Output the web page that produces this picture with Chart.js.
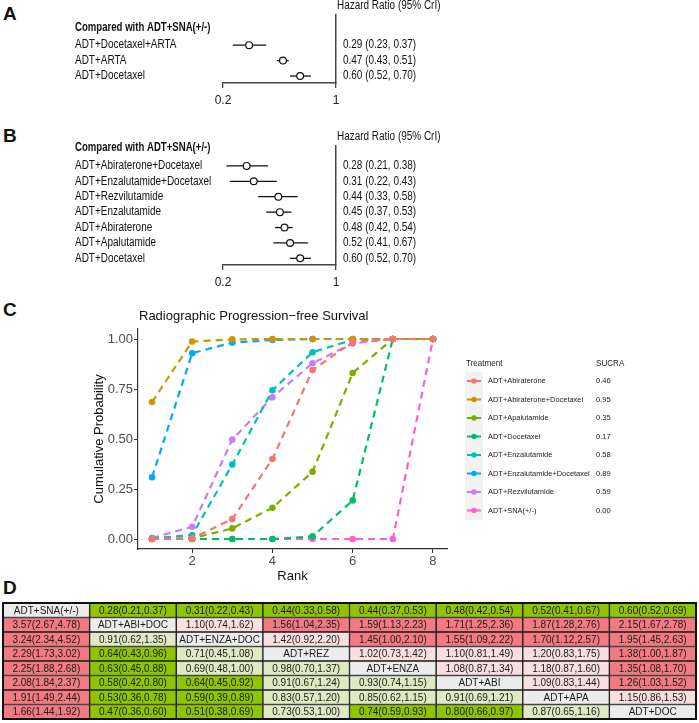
<!DOCTYPE html>
<html>
<head>
<meta charset="utf-8">
<script src="https://cdn.jsdelivr.net/npm/chart.js@4.4.1/dist/chart.umd.min.js"></script>
<style>
    body { margin: 0; background: #fff; width: 699px; height: 723px; position: relative; overflow: hidden; font-family: 'Liberation Sans', Arial, sans-serif; }
    canvas { position: absolute; left: 0; }
    .tag { position: absolute; left: 3px; font-weight: bold; font-size: 19px; line-height: 1; color: #111; }
</style>
</head>
<body>
<div class="tag" style="top:4px">A</div>
<div class="tag" style="top:126px">B</div>
<div class="tag" style="top:300px">C</div>
<div class="tag" style="top:578px">D</div>
<canvas id="forestA" width="699" height="110" style="top:0"></canvas>
<canvas id="forestB" width="699" height="185" style="top:108px"></canvas>
<canvas id="rankChart" width="699" height="290" style="top:300px"></canvas>
<canvas id="league" width="699" height="133" style="top:590px"></canvas>
<script>
// Panel A - classes vs ADT+SNA(+/-)
const aLabels = ['ADT+Docetaxel+ARTA', 'ADT+ARTA', 'ADT+Docetaxel'];
const aHR = [0.29, 0.47, 0.60];
const aLow = [0.23, 0.43, 0.52];
const aHigh = [0.37, 0.51, 0.70];

// Panel B - single treatments vs ADT+SNA(+/-)
const bLabels = ['ADT+Abiraterone+Docetaxel', 'ADT+Enzalutamide+Docetaxel', 'ADT+Rezvilutamide',
    'ADT+Enzalutamide', 'ADT+Abiraterone', 'ADT+Apalutamide', 'ADT+Docetaxel'];
const bHR = [0.28, 0.31, 0.44, 0.45, 0.48, 0.52, 0.60];
const bLow = [0.21, 0.22, 0.33, 0.37, 0.42, 0.41, 0.52];
const bHigh = [0.38, 0.43, 0.58, 0.53, 0.54, 0.67, 0.70];
const hrTicks = [0.2, 1];

// Panel C - cumulative rank probabilities
const ranks = [1, 2, 3, 4, 5, 6, 7, 8];
const treatments = ['ADT+Abiraterone', 'ADT+Abiraterone+Docetaxel', 'ADT+Apalutamide', 'ADT+Docetaxel',
    'ADT+Enzalutamide', 'ADT+Enzalutamide+Docetaxel', 'ADT+Rezvilutamide', 'ADT+SNA(+/-)'];
const sucra = [0.46, 0.95, 0.35, 0.17, 0.58, 0.89, 0.59, 0.00];
const cumAbi = [0, 0.003, 0.10, 0.40, 0.845, 0.985, 1, 1];
const cumAbiDoc = [0.685, 0.987, 0.998, 1, 1, 1, 1, 1];
const cumApa = [0, 0.003, 0.053, 0.156, 0.336, 0.83, 1, 1];
const cumDoc = [0, 0, 0, 0, 0.013, 0.193, 1, 1];
const cumEnza = [0.003, 0.02, 0.372, 0.744, 0.934, 0.996, 1, 1];
const cumEnzaDoc = [0.309, 0.929, 0.982, 0.995, 1, 1, 1, 1];
const cumRez = [0.005, 0.061, 0.497, 0.709, 0.879, 0.978, 1, 1];
const cumSNA = [0, 0, 0, 0, 0, 0, 0, 1];
const xTicksC = [2, 4, 6, 8];
const yTicksC = [0, 0.25, 0.5, 0.75, 1];

// Panel D - league table (row = column comparisons)
const leagueRows = [
    ['ADT+SNA(+/-)', '0.28(0.21,0.37)', '0.31(0.22,0.43)', '0.44(0.33,0.58)', '0.44(0.37,0.53)', '0.48(0.42,0.54)', '0.52(0.41,0.67)', '0.60(0.52,0.69)'],
    ['3.57(2.67,4.78)', 'ADT+ABI+DOC', '1.10(0.74,1.62)', '1.56(1.04,2.35)', '1.59(1.13,2.23)', '1.71(1.25,2.36)', '1.87(1.28,2.76)', '2.15(1.67,2.78)'],
    ['3.24(2.34,4.52)', '0.91(0.62,1.35)', 'ADT+ENZA+DOC', '1.42(0.92,2.20)', '1.45(1.00,2.10)', '1.55(1.09,2.22)', '1.70(1.12,2.57)', '1.95(1.45,2.63)'],
    ['2.29(1.73,3.02)', '0.64(0.43,0.96)', '0.71(0.45,1.08)', 'ADT+REZ', '1.02(0.73,1.42)', '1.10(0.81,1.49)', '1.20(0.83,1.75)', '1.38(1.00,1.87)'],
    ['2.25(1.88,2.68)', '0.63(0.45,0.88)', '0.69(0.48,1.00)', '0.98(0.70,1.37)', 'ADT+ENZA', '1.08(0.87,1.34)', '1.18(0.87,1.60)', '1.35(1.08,1.70)'],
    ['2.08(1.84,2.37)', '0.58(0.42,0.80)', '0.64(0.45,0.92)', '0.91(0.67,1.24)', '0.93(0.74,1.15)', 'ADT+ABI', '1.09(0.83,1.44)', '1.26(1.03,1.52)'],
    ['1.91(1.49,2.44)', '0.53(0.36,0.78)', '0.59(0.39,0.89)', '0.83(0.57,1.20)', '0.85(0.62,1.15)', '0.91(0.69,1.21)', 'ADT+APA', '1.15(0.86,1.53)'],
    ['1.66(1.44,1.92)', '0.47(0.36,0.60)', '0.51(0.38,0.69)', '0.73(0.53,1.00)', '0.74(0.59,0.93)', '0.80(0.66,0.97)', '0.87(0.65,1.16)', 'ADT+DOC'],
];
// N = treatment name, G/g = strong/weak benefit, R/r = strong/weak harm
const leagueShade = ['NGGGGGGG', 'RNrRRRRR', 'RgNrRRRR', 'RGgNrrrR', 'RGggNrrR', 'RGGggNrR', 'RGGgggNr', 'RGGgGGgN'];

const sans = "'Liberation Sans', Arial, sans-serif";

// no narrow face installed, so squeeze horizontally
function fillNarrow(ctx, text, x, y, k) {
    ctx.save();
    ctx.translate(x, y);
    ctx.scale(k, 1);
    ctx.fillText(text, 0, 0);
    ctx.restore();
}

// Forest plot (log HR scale)
function forestChart(id, labels, hr, lo, hi, yMin, yMax, top, bottom, canvasH) {
    const rows = labels.map((_, i) => i + 1);
    const whiskers = rows.map((r, i) => ({
        type: 'line',
        data: [{ x: lo[i], y: r }, { x: hi[i], y: r }],
        borderColor: '#111',
        borderWidth: 1.3,
        pointRadius: 0
    }));
    const textPlugin = {
        id: 'forestText',
        afterDraw(chart) {
            const { ctx, chartArea, scales: { y } } = chart;
            ctx.save();
            ctx.fillStyle = '#111';
            ctx.textBaseline = 'middle';
            ctx.textAlign = 'left';
            ctx.font = `bold 12px ${sans}`;
            fillNarrow(ctx, 'Compared with ADT+SNA(+/-)', 75, y.getPixelForValue(-0.15), 0.8);
            ctx.font = `12px ${sans}`;
            labels.forEach((lab, i) => {
                const py = y.getPixelForValue(i + 1);
                fillNarrow(ctx, lab, 75, py, 0.83);
                fillNarrow(ctx, `${hr[i].toFixed(2)} (${lo[i].toFixed(2)}, ${hi[i].toFixed(2)})`, chartArea.right + 7, py, 0.83);
            });
            fillNarrow(ctx, 'Hazard Ratio (95% CrI)', chartArea.right + 1, chartArea.top - 9, 0.83);
            ctx.restore();
        }
    };
    new Chart(document.getElementById(id), {
        type: 'scatter',
        data: {
            datasets: [{
                data: rows.map((r, i) => ({ x: hr[i], y: r })),
                pointRadius: 3.4,
                pointBackgroundColor: '#fff',
                pointBorderColor: '#111',
                pointBorderWidth: 1.2
            }, ...whiskers]
        },
        options: {
            responsive: false,
            animation: false,
            layout: { padding: { left: 223, right: 363, top: top, bottom: 0 } },
            plugins: { legend: { display: false }, tooltip: { enabled: false } },
            scales: {
                x: {
                    type: 'logarithmic',
                    min: 0.2,
                    max: 1,
                    afterBuildTicks: s => { s.ticks = hrTicks.map(v => ({ value: v })); },
                    afterFit: s => { s.height = canvasH - bottom; },
                    grid: { drawOnChartArea: false, drawTicks: true, tickLength: 5, color: '#444', lineWidth: 1.3 },
                    border: { color: '#444', width: 1.5 },
                    ticks: { font: { family: sans, size: 12 }, color: '#222', padding: 5, maxRotation: 0, autoSkip: false, callback: v => String(v) }
                },
                y: {
                    type: 'linear',
                    reverse: true,
                    min: yMin,
                    max: yMax,
                    position: 'right',
                    afterFit: s => { s.width = 0; },
                    ticks: { display: false },
                    grid: { display: false, drawTicks: false },
                    border: { display: true, color: '#444', width: 1.5 }
                }
            }
        },
        plugins: [textPlugin]
    });
}

forestChart('forestA', aLabels, aHR, aLow, aHigh, -0.95, 3.45, 15, 83, 110);
forestChart('forestB', bLabels, bHR, bLow, bHigh, -0.29, 7.43, 38, 157, 185);

// Panel C - rankogram
const cumProb = [cumAbi, cumAbiDoc, cumApa, cumDoc, cumEnza, cumEnzaDoc, cumRez, cumSNA];
const hueColors = ['#F8766D', '#CD9600', '#7CAE00', '#00BE67', '#00BFC4', '#00A9FF', '#C77CFF', '#FF61CC'];

const rankDecor = {
    id: 'rankDecor',
    afterDraw(chart) {
        const { ctx, chartArea } = chart;
        ctx.save();
        ctx.fillStyle = '#111';
        ctx.textBaseline = 'middle';
        ctx.textAlign = 'left';
        ctx.font = `13px ${sans}`;
        ctx.fillText('Radiographic Progression\u2212free Survival', chartArea.left + 1, 16);
        // legend
        const ly0 = 81, step = 18.5;
        ctx.font = `8.5px ${sans}`;
        ctx.fillStyle = '#222';
        fillNarrow(ctx, 'Treatment', 466, 64, 0.95);
        fillNarrow(ctx, 'SUCRA', 596, 64, 0.95);
        ctx.fillStyle = '#f2f2f2';
        ctx.fillRect(465, ly0 - 9, 18, step * treatments.length);
        ctx.font = `8px ${sans}`;
        treatments.forEach((t, i) => {
            const y = ly0 + i * step;
            ctx.strokeStyle = hueColors[i];
            ctx.lineWidth = 2;
            ctx.beginPath();
            ctx.moveTo(467, y);
            ctx.lineTo(481, y);
            ctx.stroke();
            ctx.fillStyle = hueColors[i];
            ctx.beginPath();
            ctx.arc(474, y, 2.7, 0, Math.PI * 2);
            ctx.fill();
            ctx.fillStyle = '#222';
            fillNarrow(ctx, t, 488, y, 0.93);
            fillNarrow(ctx, sucra[i].toFixed(2), 596, y, 0.95);
        });
        ctx.restore();
    }
};

new Chart(document.getElementById('rankChart'), {
    type: 'line',
    data: {
        datasets: treatments.map((t, i) => ({
            label: t,
            data: ranks.map((r, k) => ({ x: r, y: cumProb[i][k] })),
            borderColor: hueColors[i],
            backgroundColor: hueColors[i],
            borderDash: [7, 5],
            borderWidth: 2.2,
            pointRadius: 3.3,
            pointBorderWidth: 0,
            tension: 0
        }))
    },
    options: {
        responsive: false,
        animation: false,
        layout: { padding: { left: 90, right: 252, top: 29, bottom: 0 } },
        plugins: { legend: { display: false }, tooltip: { enabled: false } },
        scales: {
            x: {
                type: 'linear',
                min: 0.65,
                max: 8.35,
                afterBuildTicks: s => { s.ticks = xTicksC.map(v => ({ value: v })); },
                afterFit: s => { s.height = 41; },
                grid: { drawOnChartArea: false, tickLength: 4, color: '#333' },
                border: { color: '#333', width: 1.2 },
                ticks: { font: { family: sans, size: 13 }, color: '#4d4d4d', padding: 1, maxRotation: 0 },
                title: { display: true, text: 'Rank', font: { family: sans, size: 13 }, color: '#111', padding: { top: 0, bottom: 6 } }
            },
            y: {
                type: 'linear',
                min: -0.05,
                max: 1.05,
                afterBuildTicks: s => { s.ticks = yTicksC.map(v => ({ value: v })); },
                afterFit: s => { s.width = 48; },
                grid: { drawOnChartArea: false, tickLength: 4, color: '#333' },
                border: { color: '#333', width: 1.2 },
                ticks: { font: { family: sans, size: 13 }, color: '#4d4d4d', padding: 1, callback: v => v.toFixed(2) },
                title: { display: true, text: 'Cumulative Probability', font: { family: sans, size: 13 }, color: '#111', padding: { top: 2, bottom: 0 } }
            }
        }
    },
    plugins: [rankDecor]
});

// Panel D - league table as stacked cells
const shadeColors = { N: '#ececec', G: '#8fc400', g: '#dfe9c4', R: '#f27a82', r: '#f9dfe0' };

const leagueText = {
    id: 'leagueText',
    afterDatasetsDraw(chart) {
        const { ctx, chartArea } = chart;
        ctx.save();
        ctx.font = `10px ${sans}`;
        ctx.fillStyle = '#1a1a1a';
        ctx.textAlign = 'center';
        ctx.textBaseline = 'middle';
        chart.data.datasets.forEach((ds, j) => {
            chart.getDatasetMeta(j).data.forEach((bar, i) => {
                const c = bar.getCenterPoint();
                ctx.fillText(leagueRows[i][j], c.x, c.y + 0.5);
            });
        });
        ctx.strokeStyle = '#111';
        ctx.lineWidth = 2;
        ctx.strokeRect(chartArea.left, chartArea.top, chartArea.width, chartArea.height);
        ctx.restore();
    }
};

new Chart(document.getElementById('league'), {
    type: 'bar',
    data: {
        labels: leagueRows.map((r, i) => r[i]),
        datasets: leagueRows[0].map((_, j) => ({
            data: leagueRows.map(() => 1),
            backgroundColor: leagueRows.map((_, i) => shadeColors[leagueShade[i][j]]),
            borderColor: '#1a1a1a',
            borderWidth: 1,
            borderSkipped: false,
            barPercentage: 1,
            categoryPercentage: 1
        }))
    },
    options: {
        indexAxis: 'y',
        responsive: false,
        animation: false,
        layout: { padding: { left: 3, right: 3, top: 13, bottom: 4 } },
        plugins: { legend: { display: false }, tooltip: { enabled: false } },
        scales: {
            x: { stacked: true, display: false, min: 0, max: 8 },
            y: { stacked: true, display: false }
        }
    },
    plugins: [leagueText]
});
</script>
</body>
</html>
